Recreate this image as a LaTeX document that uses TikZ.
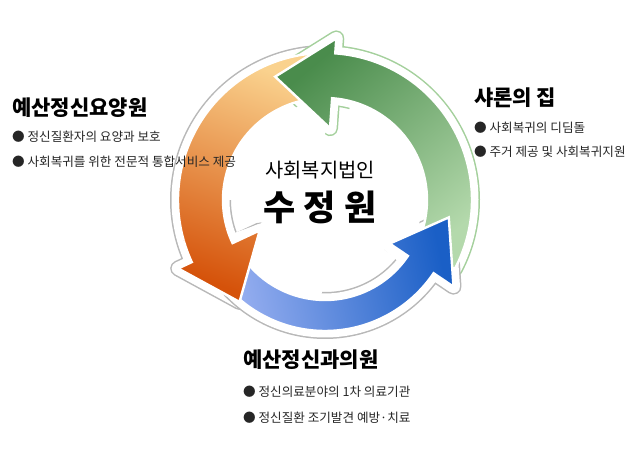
\documentclass[tikz,border=0pt]{standalone}
\usepackage{fontspec}
\setmainfont{Noto Sans CJK KR}
\usetikzlibrary{positioning}

\definecolor{gDark}{HTML}{4A8C4C}
\definecolor{gLight}{HTML}{B4D9AC}
\definecolor{gLine}{HTML}{A4D09C}
\definecolor{oDark}{HTML}{D5520A}
\definecolor{oLight}{HTML}{FAD28E}
\definecolor{bDark}{HTML}{1A5FC6}
\definecolor{bLight}{HTML}{9CB2F2}
\definecolor{shadowGray}{HTML}{B8B8B8}

% one bent arrow of the cycle: [options]{tail}{base of head}{tip}
\newcommand{\ringarrow}[4][]{%
  \path[#1] (#2:\arOut) arc[start angle=#2, end angle=#3, radius=\arOut]
    -- (#3:\hdOut) -- (#4:\hdTip) -- (#3:\hdIn) -- (#3:\arIn)
    arc[start angle=#3, end angle=#2, radius=\arIn] -- cycle;}
% wipes the outline off the inner side between two angles
\newcommand{\cutinner}[2]{%
  \fill[white] (0,0) -- (#1:97) arc[start angle=#1, end angle=#2, radius=97] -- cycle;}
\def\arIn{102}\def\arOut{147}\def\hdIn{72}\def\hdOut{162}\def\hdTip{133}

\begin{document}
\begin{tikzpicture}[x=1pt, y=1pt,
  title/.style={font=\bfseries\fontsize{21}{24}\selectfont, inner sep=0pt},
  item/.style={font=\fontsize{12.6}{15}\selectfont, inner sep=0pt, text=black!85},
  halo/.style={draw=#1, line width=16pt, line join=round},
  halogap/.style={draw=white, line width=13pt, line join=round},
  arrowfill/.style={draw=white, line width=2.4pt}]
\useasboundingbox (0,0) rectangle (640,452);
\fill[white] (0,0) rectangle (640,452);

\begin{scope}[shift={(325,252)}]
% thin outlines round the arrows
\ringarrow[halo=shadowGray]{96}{205}{230}
\ringarrow[halogap]{96}{205}{230}
\ringarrow[halo=gLine]{-28}{86}{112}
\ringarrow[halogap]{-28}{86}{112}
\begin{scope}
\def\arIn{100}\def\arOut{131}\def\hdIn{78}\def\hdOut{155}\def\hdTip{125}
\ringarrow[halo=shadowGray]{212}{326}{352}
\ringarrow[halogap]{212}{326}{352}
\end{scope}
\cutinner{90}{180}
\cutinner{-40}{75}
\cutinner{200}{268}
% arrows
\ringarrow[arrowfill, top color=oLight, bottom color=oDark, shading angle=-20]{96}{205}{230}
\ringarrow[arrowfill, top color=gDark, bottom color=gLight, shading angle=40]{-28}{86}{112}
\begin{scope}
\def\arIn{100}\def\arOut{131}\def\hdIn{78}\def\hdOut{155}\def\hdTip{125}
\ringarrow[arrowfill, top color=bDark, bottom color=bLight, shading angle=-78]{212}{326}{352}
\end{scope}
% orange head lies over the blue tail
\begin{scope}
\clip (0,0) -- (196:185) arc[start angle=196, end angle=242, radius=185] -- cycle;
\ringarrow[arrowfill, top color=oLight, bottom color=oDark, shading angle=-20]{96}{205}{230}
\end{scope}
\end{scope}

% centre
\node[font=\fontsize{19.8}{23}\selectfont, inner sep=0pt] (corp) at (320,282) {사회복지법인};
\node[font=\bfseries\fontsize{35}{40}\selectfont, inner sep=0pt] (name) at (320,245) {수 정 원};

% left
\node[title, anchor=west] (leftT) at (12,344) {예산정신요양원};
\node[item, anchor=west] (left1) at ([yshift=-29pt]leftT.west) {● 정신질환자의 요양과 보호};
\node[item, anchor=west] (left2) at ([yshift=-25pt]left1.west) {● 사회복귀를 위한 전문적 통합서비스 제공};

% right
\node[title, anchor=west] (rightT) at (474,354) {샤론의 집};
\node[item, anchor=west] (right1) at ([yshift=-30pt]rightT.west) {● 사회복귀의 디딤돌};
\node[item, anchor=west] (right2) at ([yshift=-24pt]right1.west) {● 주거 제공 및 사회복귀지원};

% bottom
\node[title, anchor=west] (bottomT) at (243,92) {예산정신과의원};
\node[item, anchor=west] (bottom1) at ([yshift=-32pt]bottomT.west) {● 정신의료분야의 1차 의료기관};
\node[item, anchor=west] (bottom2) at ([yshift=-26pt]bottom1.west) {● 정신질환 조기발견 예방·치료};
\end{tikzpicture}
\end{document}
